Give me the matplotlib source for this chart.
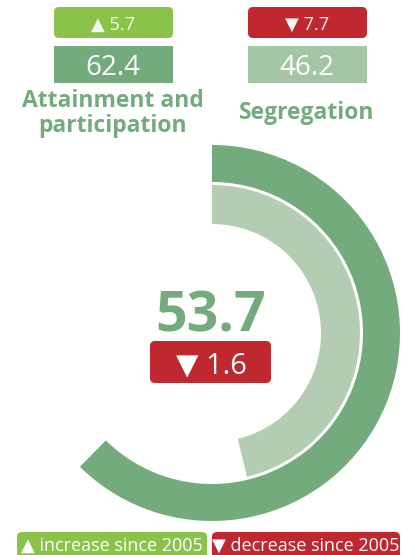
import matplotlib.pyplot as plt
from matplotlib.patches import Wedge, FancyBboxPatch

# index values
overall_score = 53.7
overall_change = -1.6
components = ['Attainment and\nparticipation', 'Segregation']
scores = [62.4, 46.2]
changes = [5.7, -7.7]
legend_labels = ['increase since 2005', 'decrease since 2005']

# colours
dark_green = '#74ab7d'
light_green = '#b3cdb2'
box_light = '#a5c6a4'
up_green = '#8bc24a'
down_red = '#c0282f'

W, H = 417, 555
plt.rcParams['font.family'] = ['Open Sans', 'DejaVu Sans']

fig = plt.figure(figsize=(W / 100, H / 100), dpi=100)
ax = fig.add_axes([0, 0, 1, 1])
ax.set_xlim(0, W)
ax.set_ylim(0, H)
ax.axis('off')


def Y(y):
    # image pixel row -> axes y
    return H - y


def box(x0, y0, x1, y1, color, r=4):
    p = FancyBboxPatch((x0, Y(y1)), x1 - x0, y1 - y0,
                       boxstyle=f'round,pad=0,rounding_size={r}',
                       fc=color, ec='none')
    ax.add_patch(p)


def arrow(v):
    return '\u25b2' if v >= 0 else '\u25bc'


# gauge rings, clockwise from the top
cx, cy = 212, Y(333)
ring_specs = [(188, 37, dark_green), (148, 39, light_green)]
for val, (r, w, col) in zip(scores, ring_specs):
    ax.add_patch(Wedge((cx, cy), r, 90 - 360 * val / 100, 90, width=w,
                       fc=col, ec='none'))

# centre value
ax.text(211, Y(332), f'{overall_score:.1f}', ha='center', va='baseline',
        fontsize=40, fontweight='bold', color=dark_green)
box(150, 341, 271, 383, down_red if overall_change < 0 else up_green, r=5)
ax.text(211, Y(373), f'{arrow(overall_change)} {abs(overall_change):.1f}',
        ha='center', va='baseline', fontsize=21, color='white')

# component boxes at the top
col_x = [113, 307]
score_cols = [dark_green, box_light]
label_base = [107, 119]
for i in range(len(components)):
    x = col_x[i]
    c = changes[i]
    box(x - 59, 7, x + 60, 38, up_green if c >= 0 else down_red, r=5)
    ax.text(x, Y(30), f'{arrow(c)} {abs(c):.1f}', ha='center', va='baseline',
            fontsize=13, color='#f4f4f4')
    box(x - 59, 46, x + 60, 83, score_cols[i], r=0)
    ax.text(x, Y(75), f'{scores[i]:.1f}', ha='center', va='baseline',
            fontsize=20, color='white')
    lines = components[i].split('\n')
    for j, ln in enumerate(lines):
        ax.text(x, Y(label_base[i] + 25 * j), ln, ha='center', va='baseline',
                fontsize=16.5, fontweight='bold', color=dark_green)

# legend at the bottom (runs off the image edge)
leg_boxes = [(17, 207, up_green, '\u25b2'), (212, 400, down_red, '\u25bc')]
for (x0, x1, col, sym), lab in zip(leg_boxes, legend_labels):
    box(x0, 532, x1, 570, col, r=5)
    ax.text((x0 + x1) / 2, Y(551), f'{sym} {lab}', ha='center', va='baseline',
            fontsize=13, color='white')

fig.savefig('out.png', dpi=100)
